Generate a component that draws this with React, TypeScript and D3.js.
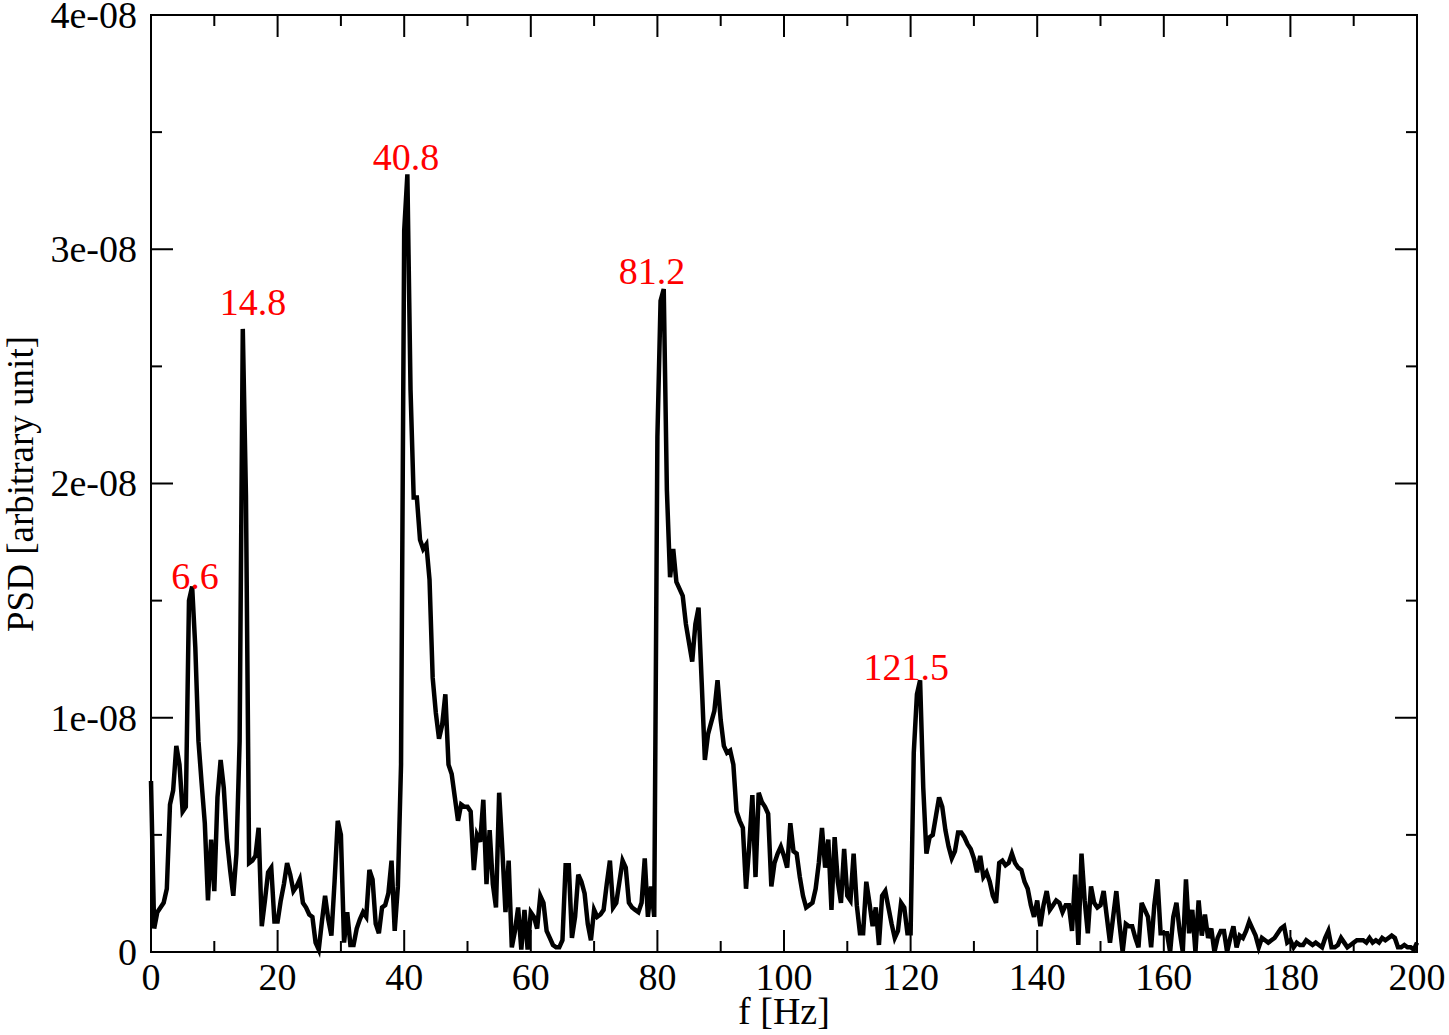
import React from "react";
import * as d3 from "d3";

// PSD values in units of 1e-8, sampled every 0.5 Hz from 0 to 200 Hz
const F_START = 0;
const F_STEP = 0.5;
const PSD_UNIT = 1e-8;
const psd: number[] = [
  // 0 - 9.5
  0.73, 0.1, 0.17, 0.19, 0.21, 0.27, 0.63, 0.69, 0.88, 0.8, 0.6, 0.62, 1.5, 1.56, 1.3, 0.9, 0.72, 0.55, 0.22, 0.48,
  // 10 - 19.5
  0.26, 0.66, 0.82, 0.7, 0.48, 0.35, 0.24, 0.42, 0.9, 2.66, 1.95, 0.38, 0.39, 0.41, 0.53, 0.11, 0.22, 0.34, 0.36, 0.13,
  // 20 - 29.5
  0.13, 0.22, 0.29, 0.38, 0.33, 0.26, 0.28, 0.31, 0.21, 0.19, 0.16, 0.15, 0.04, 0.01, 0.13, 0.24, 0.14, 0.07, 0.3, 0.56,
  // 30 - 39.5
  0.5, 0.04, 0.17, 0.03, 0.03, 0.1, 0.14, 0.17, 0.15, 0.35, 0.31, 0.12, 0.08, 0.19, 0.2, 0.25, 0.39, 0.09, 0.28, 0.8,
  // 40 - 49.5
  3.08, 3.32, 2.4, 1.94, 1.94, 1.76, 1.72, 1.74, 1.59, 1.17, 1.02, 0.91, 0.97, 1.1, 0.8, 0.76, 0.66, 0.56, 0.63, 0.62,
  // 50 - 59.5
  0.62, 0.6, 0.35, 0.5, 0.47, 0.65, 0.29, 0.52, 0.29, 0.19, 0.68, 0.44, 0.17, 0.39, 0.02, 0.09, 0.19, 0.01, 0.18, 0.01,
  // 60 - 69.5
  0.17, 0.15, 0.1, 0.24, 0.21, 0.09, 0.06, 0.03, 0.02, 0.02, 0.05, 0.37, 0.37, 0.06, 0.15, 0.33, 0.3, 0.25, 0.12, 0.05,
  // 70 - 79.5
  0.18, 0.15, 0.16, 0.18, 0.29, 0.39, 0.19, 0.21, 0.3, 0.39, 0.36, 0.21, 0.19, 0.18, 0.17, 0.21, 0.4, 0.15, 0.28, 0.15,
  // 80 - 89.5
  2.2, 2.78, 2.83, 1.97, 1.6, 1.72, 1.58, 1.55, 1.52, 1.4, 1.32, 1.24, 1.4, 1.47, 1.15, 0.82, 0.93, 0.98, 1.03, 1.16,
  // 90 - 99.5
  0.99, 0.88, 0.85, 0.86, 0.8, 0.6, 0.56, 0.53, 0.27, 0.45, 0.67, 0.32, 0.68, 0.64, 0.62, 0.59, 0.28, 0.38, 0.42, 0.45,
  // 100 - 109.5
  0.41, 0.36, 0.55, 0.43, 0.42, 0.32, 0.24, 0.19, 0.2, 0.21, 0.27, 0.38, 0.53, 0.36, 0.48, 0.18, 0.49, 0.3, 0.21, 0.44,
  // 110 - 119.5
  0.24, 0.22, 0.42, 0.2, 0.08, 0.08, 0.3, 0.21, 0.11, 0.19, 0.03, 0.24, 0.26, 0.19, 0.12, 0.06, 0.09, 0.21, 0.19, 0.08,
  // 120 - 129.5
  0.08, 0.85, 1.1, 1.16, 0.7, 0.42, 0.49, 0.5, 0.58, 0.66, 0.62, 0.52, 0.45, 0.4, 0.43, 0.51, 0.51, 0.49, 0.46, 0.44,
  // 130 - 139.5
  0.4, 0.34, 0.41, 0.32, 0.34, 0.3, 0.24, 0.21, 0.38, 0.39, 0.37, 0.38, 0.42, 0.38, 0.36, 0.35, 0.3, 0.27, 0.2, 0.15,
  // 140 - 149.5
  0.22, 0.11, 0.2, 0.26, 0.18, 0.2, 0.22, 0.21, 0.17, 0.2, 0.2, 0.09, 0.33, 0.03, 0.42, 0.22, 0.08, 0.28, 0.21, 0.19,
  // 150 - 159.5
  0.2, 0.26, 0.15, 0.04, 0.15, 0.26, 0.12, 0.0, 0.12, 0.11, 0.11, 0.06, 0.02, 0.21, 0.18, 0.15, 0.02, 0.2, 0.31, 0.08,
  // 160 - 169.5
  0.08, 0.08, 0.0, 0.15, 0.21, 0.09, 0.0, 0.31, 0.08, 0.18, 0.0, 0.22, 0.07, 0.16, 0.06, 0.1, 0.0, 0.06, 0.09, 0.09,
  // 170 - 179.5
  0.0, 0.06, 0.11, 0.02, 0.07, 0.06, 0.09, 0.13, 0.1, 0.07, 0.02, 0.06, 0.05, 0.04, 0.05, 0.06, 0.08, 0.1, 0.11, 0.04,
  // 180 - 189.5
  0.05, 0.02, 0.04, 0.03, 0.03, 0.05, 0.04, 0.03, 0.04, 0.03, 0.02, 0.06, 0.09, 0.02, 0.02, 0.03, 0.06, 0.04, 0.02, 0.03,
  // 190 - 199.5
  0.04, 0.05, 0.05, 0.05, 0.04, 0.06, 0.04, 0.05, 0.04, 0.06, 0.05, 0.06, 0.07, 0.06, 0.02, 0.02, 0.03, 0.02, 0.02, 0.01,
  // 200
  0.04,
];

const xMajorTicks = [0, 20, 40, 60, 80, 100, 120, 140, 160, 180, 200];
const xMinorTicks = [10, 30, 50, 70, 90, 110, 130, 150, 170, 190];
const yMajorTicks = [0, 1e-8, 2e-8, 3e-8, 4e-8];
const yTickLabels = ["0", "1e-08", "2e-08", "3e-08", "4e-08"];
const yMinorTicks = [0.5e-8, 1.5e-8, 2.5e-8, 3.5e-8];

// Peak annotations: text and the (frequency, PSD/1e-8) point of each text's baseline centre
const peakLabels = ["6.6", "14.8", "40.8", "81.2", "121.5"];
const peakLabelF = [6.95, 16.1, 40.3, 79.15, 119.3];
const peakLabelV = [1.55, 2.72, 3.34, 2.85, 1.16];

const W = 1449;
const H = 1035;
const L = 151, R = 1417, T = 15, B = 952;
const FONT = "'Liberation Serif', 'Times New Roman', serif";

export default function App() {
  const x = d3.scaleLinear().domain([0, 200]).range([L, R]);
  const y = d3.scaleLinear().domain([0, 4e-8]).range([B, T]);
  const pts: [number, number][] = psd.map((v, i) => [F_START + i * F_STEP, v * PSD_UNIT]);
  const line = d3.line<[number, number]>().x((d) => x(d[0])).y((d) => y(d[1]));

  const MAJ = 22, MIN = 11;
  return (
    <div style={{ position: "absolute", left: 0, top: 0 }}>
      <svg width={W} height={H} style={{ display: "block", background: "#fff" }}>
        <path d={line(pts) ?? ""} fill="none" stroke="#000" strokeWidth={4.5} strokeLinejoin="miter" />
        <rect x={L} y={T} width={R - L} height={B - T} fill="none" stroke="#000" strokeWidth={2} />
        {xMajorTicks.map((t) => (
          <g key={"xM" + t}>
            <line x1={x(t)} x2={x(t)} y1={B} y2={B - MAJ} stroke="#000" strokeWidth={2} />
            <line x1={x(t)} x2={x(t)} y1={T} y2={T + MAJ} stroke="#000" strokeWidth={2} />
            <text x={x(t)} y={990} textAnchor="middle" fontFamily={FONT} fontSize={38}>{t}</text>
          </g>
        ))}
        {xMinorTicks.map((t) => (
          <g key={"xm" + t}>
            <line x1={x(t)} x2={x(t)} y1={B} y2={B - MIN} stroke="#000" strokeWidth={2} />
            <line x1={x(t)} x2={x(t)} y1={T} y2={T + MIN} stroke="#000" strokeWidth={2} />
          </g>
        ))}
        {yMajorTicks.map((t, i) => (
          <g key={"yM" + t}>
            <line x1={L} x2={L + MAJ} y1={y(t)} y2={y(t)} stroke="#000" strokeWidth={2} />
            <line x1={R} x2={R - MAJ} y1={y(t)} y2={y(t)} stroke="#000" strokeWidth={2} />
            <text x={137} y={y(t)} dy="0.34em" textAnchor="end" fontFamily={FONT} fontSize={38}>{yTickLabels[i]}</text>
          </g>
        ))}
        {yMinorTicks.map((t) => (
          <g key={"ym" + t}>
            <line x1={L} x2={L + MIN} y1={y(t)} y2={y(t)} stroke="#000" strokeWidth={2} />
            <line x1={R} x2={R - MIN} y1={y(t)} y2={y(t)} stroke="#000" strokeWidth={2} />
          </g>
        ))}
        {peakLabels.map((s, i) => (
          <text key={"p" + i} x={x(peakLabelF[i])} y={y(peakLabelV[i] * PSD_UNIT)} textAnchor="middle" fill="#ff0000" fontFamily={FONT} fontSize={38}>
            {s}
          </text>
        ))}
        <text x={784} y={1024} textAnchor="middle" fontFamily={FONT} fontSize={38}>f [Hz]</text>
        <text transform={`translate(33,484) rotate(-90)`} textAnchor="middle" fontFamily={FONT} fontSize={37}>PSD [arbitrary unit]</text>
      </svg>
    </div>
  );
}
